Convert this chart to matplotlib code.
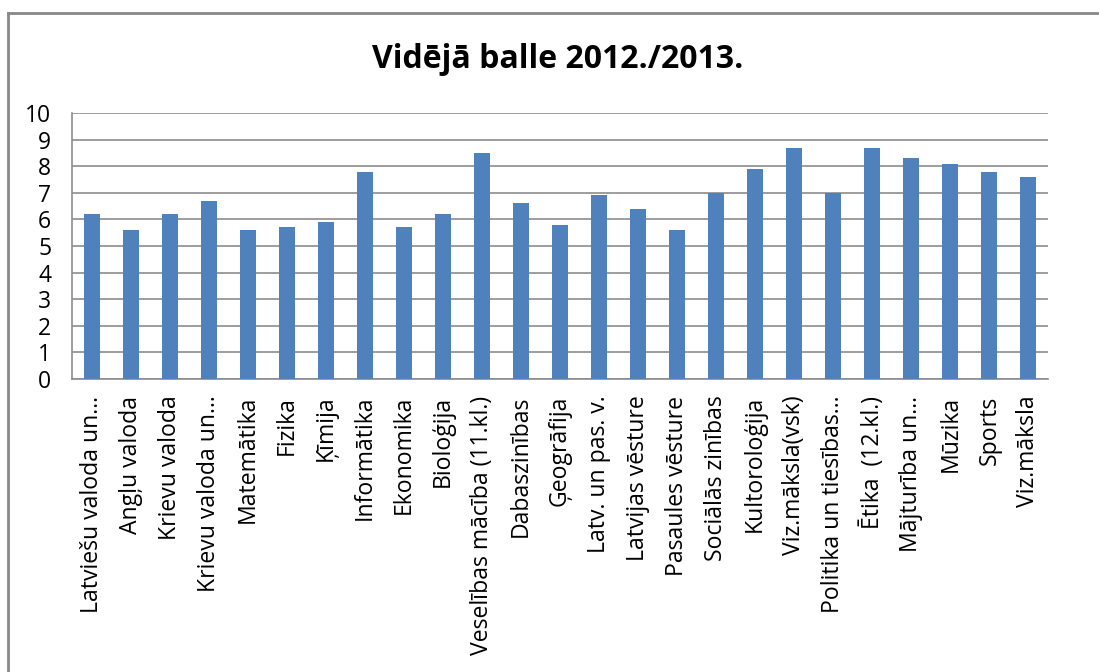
import matplotlib
matplotlib.use("Agg")
import matplotlib.pyplot as plt
from matplotlib.lines import Line2D

categories = [
    "Latviešu valoda un…", "Angļu valoda", "Krievu valoda", "Krievu valoda un…",
    "Matemātika", "Fizika", "Ķīmija", "Informātika", "Ekonomika", "Bioloģija",
    "Veselības mācība (11.kl.)", "Dabaszinības", "Ģeogrāfija", "Latv. un pas. v.",
    "Latvijas vēsture", "Pasaules vēsture", "Sociālās zinības", "Kultoroloģija",
    "Viz.māksla(vsk)", "Politika un tiesības…", "Ētika  (12.kl.)", "Mājturība un…",
    "Mūzika", "Sports", "Viz.māksla",
]
values = [6.2, 5.6, 6.2, 6.7, 5.6, 5.7, 5.9, 7.8, 5.7, 6.2, 8.5, 6.6, 5.8, 6.9,
          6.4, 5.6, 7.0, 7.9, 8.7, 7.0, 8.7, 8.3, 8.1, 7.8, 7.6]
yticks = list(range(0, 11))
title = "Vidējā balle 2012./2013."

plt.rcParams['font.family'] = ['Open Sans', 'DejaVu Sans']

W, H = 1099, 672
fig = plt.figure(figsize=(W / 100, H / 100), dpi=100)
ax = fig.add_axes([72 / W, 1 - 379 / H, (1048 - 72) / W, (379 - 113) / H])

x = range(len(categories))
ax.bar(x, values, width=0.41, color="#4F81BD", zorder=3)
ax.set_xlim(-0.5, len(categories) - 0.5)
ax.set_ylim(0, 10)
ax.set_yticks(yticks)
ax.set_yticklabels([str(t) for t in yticks], fontsize=16.5)
ax.set_xticks(list(x))
ax.set_xticklabels(categories, rotation=90, fontsize=16.6)
ax.tick_params(axis="both", length=0)
ax.tick_params(axis="x", pad=12)
ax.tick_params(axis="y", pad=15)
ax.yaxis.grid(True, color="#8c8c8c", linewidth=1.2, zorder=0)
for s in ["top", "right"]:
    ax.spines[s].set_visible(False)
for s in ["left", "bottom"]:
    ax.spines[s].set_color("#8c8c8c")
    ax.spines[s].set_linewidth(1.2)

fig.text(558 / W, 1 - 60 / H, title, ha="center", va="center",
         fontsize=23, fontweight="bold")

fig.add_artist(Line2D([8 / W, 1.0], [1 - 13 / H, 1 - 13 / H], color="#888888",
                      linewidth=2, transform=fig.transFigure))
fig.add_artist(Line2D([8 / W, 8 / W], [0, 1 - 13 / H], color="#888888",
                      linewidth=2, transform=fig.transFigure))

fig.savefig("out.png", dpi=100)
